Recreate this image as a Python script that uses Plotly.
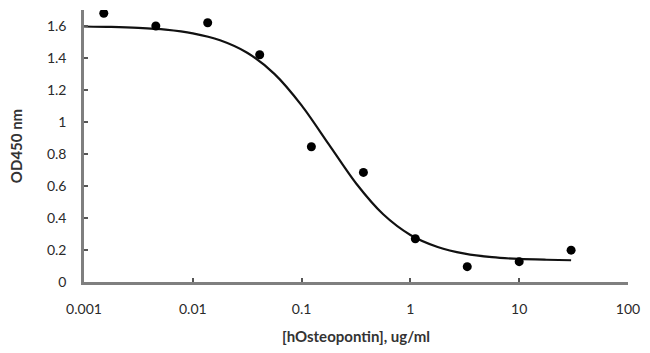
import plotly.graph_objects as go

# Measured points (threefold dilution series)
conc = [0.00152, 0.00457, 0.0137, 0.0412, 0.123, 0.370, 1.11, 3.33, 10.0, 30.0]
od450 = [1.68, 1.60, 1.62, 1.42, 0.845, 0.685, 0.27, 0.096, 0.127, 0.199]

# Fitted curve
fit_x = [0.001, 0.00178, 0.00316, 0.00562, 0.01, 0.0178, 0.0316, 0.0562, 0.1, 0.178,
         0.316, 0.562, 1.0, 1.78, 3.16, 5.62, 10.0, 17.8, 30.0]
fit_y = [1.597, 1.594, 1.588, 1.577, 1.554, 1.511, 1.433, 1.301, 1.104, 0.860,
         0.617, 0.423, 0.294, 0.219, 0.177, 0.155, 0.144, 0.139, 0.136]

x_ticks = [0.001, 0.01, 0.1, 1, 10, 100]
x_tick_text = ["0.001", "0.01", "0.1", "1", "10", "100"]
y_ticks = [0, 0.2, 0.4, 0.6, 0.8, 1.0, 1.2, 1.4, 1.6]
y_tick_text = ["0", "0.2", "0.4", "0.6", "0.8", "1", "1.2", "1.4", "1.6"]

font_family = "Lato, 'DejaVu Sans', sans-serif"
tick_font = dict(size=14, family=font_family, color="#2a2a2a")
title_font = dict(size=15, family=font_family, color="#333333")

fig = go.Figure()
fig.add_trace(go.Scatter(x=fit_x, y=fit_y, mode="lines",
                         line=dict(color="#111111", width=2.2, shape="spline", smoothing=0.8),
                         hoverinfo="skip", showlegend=False))
fig.add_trace(go.Scatter(x=conc, y=od450, mode="markers",
                         marker=dict(color="#000000", size=9), showlegend=False))

fig.update_layout(
    width=650, height=353,
    margin=dict(l=84, r=19, t=10, b=70),
    paper_bgcolor="white", plot_bgcolor="white",
    font=dict(family=font_family, size=14, color="#222222"),
    showlegend=False,
)
fig.update_xaxes(
    type="log", range=[-3, 2],
    tickvals=x_ticks, ticktext=x_tick_text,
    tickprefix="<b>", ticksuffix="</b>",
    showgrid=False, zeroline=False,
    showline=True, linecolor="#7f7f7f", linewidth=2.5,
    ticks="inside", ticklen=4, tickwidth=1.5, tickcolor="#555555",
    tickfont=tick_font, ticklabelstandoff=12,
    title=dict(text="<b>[hOsteopontin], ug/ml</b>", font=title_font, standoff=16),
)
fig.update_yaxes(
    range=[0, 1.7],
    tickvals=y_ticks, ticktext=y_tick_text,
    tickprefix="<b>", ticksuffix="</b>",
    showgrid=False, zeroline=False,
    showline=True, linecolor="#7f7f7f", linewidth=2.5,
    ticks="inside", ticklen=4, tickwidth=1.5, tickcolor="#555555",
    tickfont=tick_font, ticklabelstandoff=12,
    title=dict(text="<b>OD450 nm</b>", font=title_font, standoff=21),
)

fig.write_html("out.html")
